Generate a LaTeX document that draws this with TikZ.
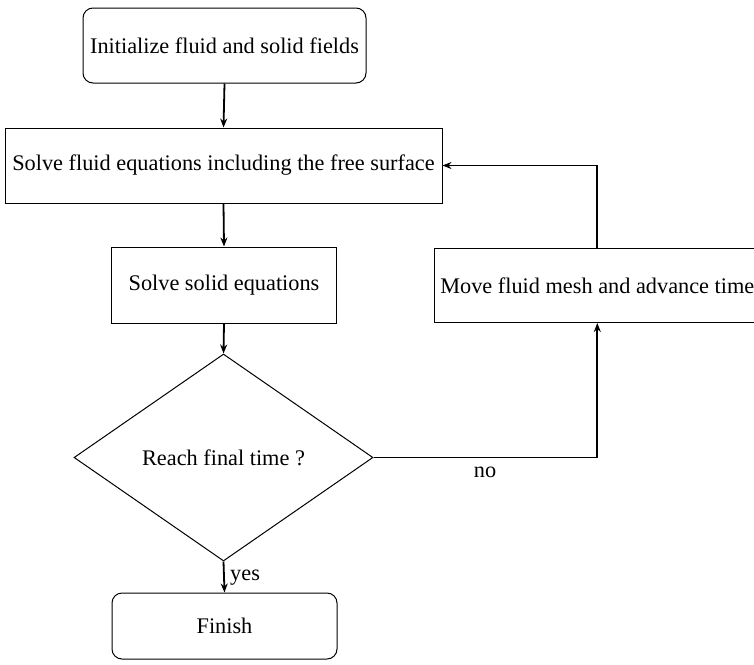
\documentclass[tikz,border=0pt]{standalone}
\usepackage{fontspec}
\setmainfont{Liberation Serif}
\usetikzlibrary{shapes.geometric,arrows.meta}
\begin{document}
\begin{tikzpicture}[x=1pt,y=-1pt,
  font=\fontsize{22.3}{26}\selectfont,
  stepbox/.style={draw, line width=1pt, inner sep=0pt, align=center},
  roundbox/.style={stepbox, rounded corners=10pt},
  decision/.style={draw, diamond, line width=1pt, inner sep=0pt, align=center},
  flow/.style={line width=1.8pt, -{Stealth[length=9pt,width=7pt]}}]
  \useasboundingbox (0,0) rectangle (754,664);
  \clip (0,0) rectangle (754,664);

  % process boxes
  \node[roundbox, minimum width=283pt, minimum height=75pt] (init) at (224.5,45.5) {Initialize fluid and solid fields};
  \node[stepbox, minimum width=437pt, minimum height=75pt] (fluid) at (223.5,165.5) {Solve fluid equations including the free surface};
  \node[stepbox, minimum width=225pt, minimum height=76pt] (solid) at (224,285) {Solve solid equations};
  \node[stepbox, minimum width=326pt, minimum height=74pt] (move) at (597.3,285.5) {Move fluid mesh and advance time};
  \node[decision, minimum width=299pt, minimum height=207pt] (check) at (223.5,457.5) {Reach final time ?};
  \node[roundbox, minimum width=225pt, minimum height=66pt] (finish) at (224.5,626) {Finish};

  % connectors
  \draw[flow] (init.south) -- (fluid.north);
  \draw[flow] (fluid.south) -- (solid.north);
  \draw[flow] (solid.south) -- (check.north);
  \draw[flow] (check.south) -- node[right, xshift=2pt, yshift=-1pt] (yes) {yes} (finish.north);
  \draw[flow] (check.east) -| (move.south);
  \draw[flow] (move.north) |- (fluid.east);
  \node (no) at (485,472) {no};
\end{tikzpicture}
\end{document}
